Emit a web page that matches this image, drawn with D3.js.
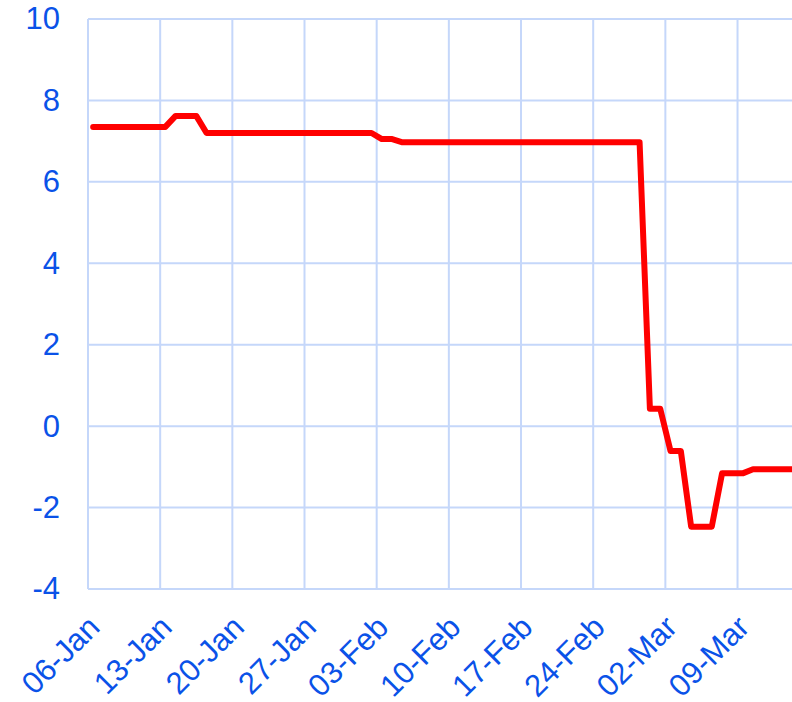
<!DOCTYPE html>
<html>
<head>
<meta charset="utf-8">
<script src="https://cdn.jsdelivr.net/npm/d3@7"></script>
<style>
  body { margin: 0; background: #fff; }
  svg { display: block; }
  .tick text { font-family: "Liberation Sans", Arial, sans-serif; fill: #0a52e8; }
</style>
</head>
<body>
<svg width="792" height="702"></svg>
<script>
  // daily series, starting 06-Jan-2020
  const startDate = '2020-01-06';
  const endDate = '2020-03-15';
  const values = [
    7.35, 7.35, 7.35, 7.35, 7.35, 7.35, 7.35, 7.35,
    7.62, 7.62, 7.62,
    7.2, 7.2, 7.2, 7.2, 7.2, 7.2, 7.2, 7.2, 7.2, 7.2, 7.2, 7.2, 7.2, 7.2, 7.2, 7.2, 7.2,
    7.05, 7.05,
    6.97, 6.97, 6.97, 6.97, 6.97, 6.97, 6.97, 6.97, 6.97, 6.97, 6.97, 6.97,
    6.97, 6.97, 6.97, 6.97, 6.97, 6.97, 6.97, 6.97, 6.97, 6.97, 6.97, 6.97,
    0.43, 0.43,
    -0.61, -0.61,
    -2.47, -2.47, -2.47,
    -1.16, -1.16, -1.16,
    -1.06, -1.06, -1.06, -1.06, -1.06
  ];
  const yTicks = [-4, -2, 0, 2, 4, 6, 8, 10];
  const xTickLabels = ['06-Jan', '13-Jan', '20-Jan', '27-Jan', '03-Feb', '10-Feb', '17-Feb', '24-Feb', '02-Mar', '09-Mar'];

  const svg = d3.select('svg');
  const parse = d3.timeParse('%Y-%m-%d');
  const t0 = parse(startDate);

  const data = values.map((v, i) => ({ date: d3.timeHour.offset(d3.timeDay.offset(t0, i), 12), value: v }));
  const xTickDates = xTickLabels.map((s, i) => d3.timeDay.offset(t0, i * 7));

  const plotLeft = 88, plotTop = 19, plotBottom = 589;
  const xScale = d3.scaleTime()
    .domain([t0, parse(endDate)])
    .range([plotLeft, plotLeft + 69 * 10.31]);
  const yScale = d3.scaleLinear()
    .domain([-4, 10])
    .range([plotBottom, plotTop]);

  const grid = svg.append('g');
  grid.selectAll('line.h').data(yTicks)
    .enter().append('line')
      .attr('x1', plotLeft).attr('x2', xScale.range()[1])
      .attr('y1', d => yScale(d)).attr('y2', d => yScale(d))
      .attr('stroke', '#c5d7fa').attr('stroke-width', 2);
  grid.selectAll('line.v').data(xTickDates)
    .enter().append('line')
      .attr('x1', d => xScale(d)).attr('x2', d => xScale(d))
      .attr('y1', plotTop).attr('y2', plotBottom)
      .attr('stroke', '#c5d7fa').attr('stroke-width', 2);

  const yAxisG = svg.append('g')
    .attr('transform', `translate(${plotLeft},0)`)
    .call(d3.axisLeft(yScale).tickValues(yTicks).tickSize(0).tickPadding(28)
      .tickFormat(d => String(d)));
  yAxisG.select('.domain').remove();
  yAxisG.selectAll('text').style('font-size', '31px');

  const xAxisG = svg.append('g')
    .attr('transform', `translate(0,${plotBottom})`)
    .call(d3.axisBottom(xScale).tickValues(xTickDates).tickSize(0)
      .tickFormat((d, i) => xTickLabels[i]));
  xAxisG.select('.domain').remove();
  xAxisG.selectAll('text')
    .style('font-size', '31px')
    .style('text-anchor', 'end')
    .attr('x', 13)
    .attr('y', 40)
    .attr('dy', 0)
    .attr('transform', 'rotate(-45 13 40)');

  const line = d3.line()
    .x(d => xScale(d.date))
    .y(d => yScale(d.value));

  svg.append('path')
    .datum(data)
    .attr('d', line)
    .attr('fill', 'none')
    .attr('stroke', '#ff0000')
    .attr('stroke-width', 6)
    .attr('stroke-linejoin', 'round')
    .attr('stroke-linecap', 'round');
</script>
</body>
</html>
